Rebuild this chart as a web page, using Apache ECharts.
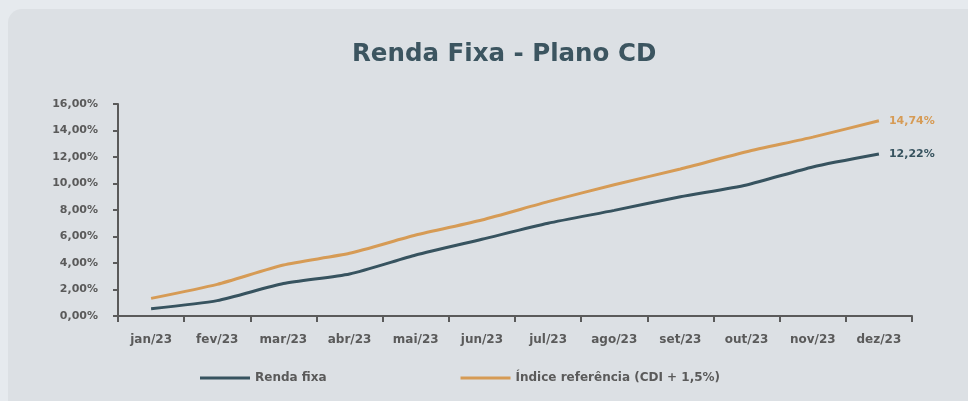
<!DOCTYPE html>
<html>
<head>
<meta charset="utf-8">
<title>Renda Fixa - Plano CD</title>
<script src="https://cdn.jsdelivr.net/npm/echarts@6/dist/echarts.min.js"></script>
<style>
	html, body { margin: 0; padding: 0; background: #e6eaee; }
	.card { position: absolute; left: 8px; top: 9px; width: 980px; height: 420px; background: #dce0e4; border-radius: 14px; }
	#main { position: absolute; left: 0; top: 0; width: 968px; height: 401px; }
</style>
</head>
<body>
<div class="card"></div>
<div id="main"></div>
<script>
	var meses = ['jan/23', 'fev/23', 'mar/23', 'abr/23', 'mai/23', 'jun/23', 'jul/23', 'ago/23', 'set/23', 'out/23', 'nov/23', 'dez/23'];
	var rendaFixa = [0.55, 1.16, 2.45, 3.17, 4.6, 5.79, 7.0, 7.97, 9.0, 9.89, 11.25, 12.22];
	var indiceRef = [1.33, 2.39, 3.85, 4.73, 6.11, 7.25, 8.63, 9.9, 11.1, 12.4, 13.5, 14.74];
	var nomes = ['Renda fixa', 'Índice referência (CDI + 1,5%)'];

	var cinza = '#5a5a5a';
	var fonte = '"DejaVu Sans", sans-serif';

	function pct(v) {
		return v.toFixed(2).replace('.', ',') + '%';
	}

	var myChart = echarts.init(document.getElementById('main'), null, { renderer: 'canvas' });
	var option = {
		backgroundColor: 'transparent',
		animation: false,
		title: {
			text: 'Renda Fixa - Plano CD',
			left: 347,
			top: 37,
			textStyle: { fontFamily: fonte, fontSize: 24.5, fontWeight: 'bold', color: '#3c5560' }
		},
		legend: {
			data: nomes,
			left: 195,
			top: 367,
			icon: 'rect',
			itemWidth: 50,
			itemHeight: 3,
			itemGap: 134,
			textStyle: { fontFamily: fonte, fontSize: 12, fontWeight: 'bold', color: cinza }
		},
		grid: { left: 118, right: 56, top: 104, bottom: 85 },
		xAxis: {
			type: 'category',
			data: meses,
			boundaryGap: true,
			axisLine: { lineStyle: { color: cinza, width: 2 } },
			axisTick: { show: true, length: 6, lineStyle: { color: cinza, width: 2 } },
			axisLabel: { margin: 18, fontFamily: fonte, fontSize: 12, fontWeight: 'bold', color: cinza }
		},
		yAxis: {
			type: 'value',
			min: 0,
			max: 16,
			interval: 2,
			splitLine: { show: false },
			axisLine: { show: true, lineStyle: { color: cinza, width: 2 } },
			axisTick: { show: true, length: 5, lineStyle: { color: cinza, width: 2 } },
			axisLabel: {
				margin: 20,
				fontFamily: fonte, fontSize: 11, fontWeight: 'bold', color: cinza,
				formatter: function (v) { return pct(v); }
			}
		},
		series: [
			{
				name: nomes[0],
				type: 'line',
				data: rendaFixa,
				smooth: 0.2,
				symbol: 'none',
				lineStyle: { color: '#37535f', width: 3 },
				itemStyle: { color: '#37535f' },
				endLabel: {
					show: true, distance: 10,
					fontFamily: fonte, fontSize: 11, fontWeight: 'bold', color: '#37535f',
					formatter: function (p) { return pct(p.value); }
				}
			},
			{
				name: nomes[1],
				type: 'line',
				data: indiceRef,
				smooth: 0.2,
				symbol: 'none',
				lineStyle: { color: '#d69b55', width: 3 },
				itemStyle: { color: '#d69b55' },
				endLabel: {
					show: true, distance: 10,
					fontFamily: fonte, fontSize: 11, fontWeight: 'bold', color: '#d69b55',
					formatter: function (p) { return pct(p.value); }
				}
			}
		]
	};
	myChart.setOption(option);
</script>
</body>
</html>
